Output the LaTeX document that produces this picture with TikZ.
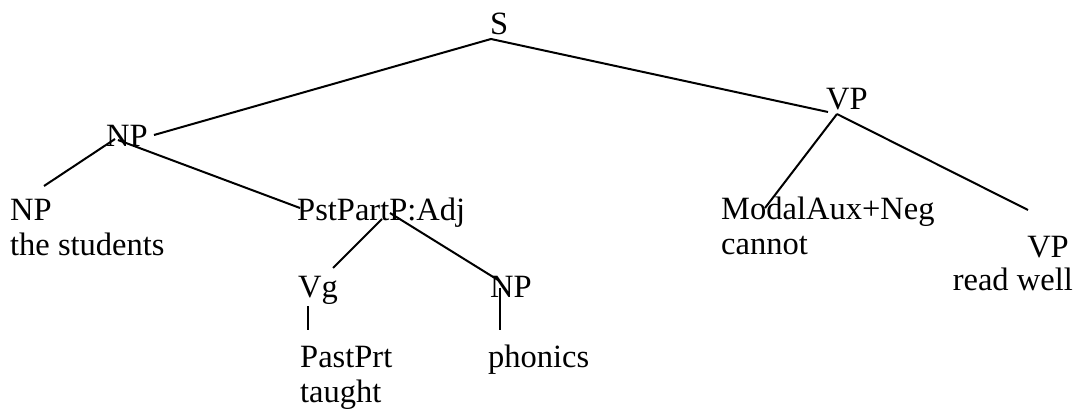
\documentclass[tikz,border=0pt]{standalone}
\usepackage{fontspec}
\setmainfont{Liberation Serif}
\begin{document}
\begin{tikzpicture}[x=1pt,y=-1pt,
  lbl/.style={inner sep=0pt, font=\fontsize{32.5}{36}\selectfont},
  lw/.style={lbl, anchor=base west},
  le/.style={lbl, anchor=base east},
  edge/.style={line width=2pt}]
\useasboundingbox (0,0) rectangle (1077,409);
% labels
\node[lw] (S) at (490,35) {S};
\node[lw] (NPa) at (106,147) {NP};
\node[lw] (VPa) at (826,110) {VP};
\node[lw] (NPb) at (10,220) {NP};
\node[lw] (students) at (10,255) {the students};
\node[lw] (PPA) at (297,221) {PstPartP:Adj};
\node[lw] (MAN) at (721,219) {ModalAux+Neg};
\node[lw] (cannot) at (721,254) {cannot};
\node[le] (VPb) at (1069,257) {VP};
\node[le] (readwell) at (1073,290) {read well};
\node[lw] (Vg) at (298,297) {Vg};
\node[lw] (NPc) at (490,297) {NP};
\node[lw] (PastPrt) at (300,367) {PastPrt};
\node[lw] (taught) at (300,402) {taught};
\node[lw] (phonics) at (488,367) {phonics};
% connector end points
\coordinate (sA) at (491,39);
\coordinate (sL) at (154,135);
\coordinate (sR) at (828,112);
\coordinate (npA) at (115,139);
\coordinate (npL) at (44,186);
\coordinate (npB) at (118,140);
\coordinate (npR) at (300,208);
\coordinate (ppL1) at (382,219);
\coordinate (ppL2) at (333,268);
\coordinate (ppR1) at (390,213);
\coordinate (ppR2) at (498,280);
\coordinate (vg1) at (308,306);
\coordinate (vg2) at (308,330);
\coordinate (np1) at (500,288);
\coordinate (np2) at (500,330);
\coordinate (vpA) at (837,114);
\coordinate (vpL) at (765,208);
\coordinate (vpR) at (1028,210);
% connectors
\draw[edge] (sL) -- (sA) -- (sR);
\draw[edge] (npA) -- (npL);
\draw[edge] (npB) -- (npR);
\draw[edge] (ppL1) -- (ppL2);
\draw[edge] (ppR1) -- (ppR2);
\draw[edge] (vg1) -- (vg2);
\draw[edge] (np1) -- (np2);
\draw[edge] (vpA) -- (vpL);
\draw[edge] (vpA) -- (vpR);
\end{tikzpicture}
\end{document}
